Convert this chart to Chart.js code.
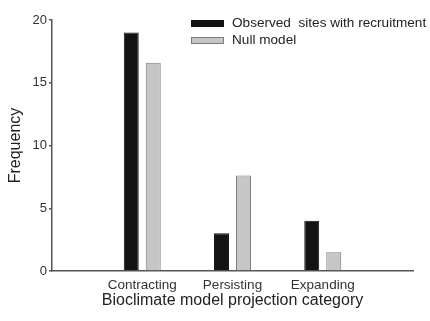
<!DOCTYPE html>
<html>
<head>
<meta charset="utf-8">
<script src="https://cdn.jsdelivr.net/npm/chart.js@4/dist/chart.umd.min.js"></script>
<style>
  body { margin: 0; background: #fff; }
  #wrap { width: 430px; height: 321px; }
</style>
</head>
<body>
<div id="wrap"><canvas id="chart" width="430" height="321"></canvas></div>
<script>
// blank slots at both ends so the 3 categories sit at 1..3 of a 0..4 axis
let categories = ['', 'Contracting', 'Persisting', 'Expanding', '']
let observed = [null, 19, 3, 4, null]
let nullModel = [null, 16.6, 7.6, 1.5, null]
let yTicks = [0, 5, 10, 15, 20]

const fontFam = '"Liberation Sans", Arial, sans-serif'
const axisColor = '#555'

// legend drawn inside the plot, top right
const insideLegend = {
    id: 'insideLegend',
    afterDraw(chart) {
        const ctx = chart.ctx
        const x0 = 191
        let y0 = 20
        ctx.save()
        ctx.font = '13.6px ' + fontFam
        ctx.textBaseline = 'middle'
        chart.data.datasets.forEach(ds => {
            ctx.fillStyle = ds.backgroundColor
            ctx.strokeStyle = ds.borderColor
            ctx.lineWidth = 1
            ctx.fillRect(x0, y0, 33, 7)
            ctx.strokeRect(x0 + 0.5, y0 + 0.5, 32, 6)
            ctx.fillStyle = '#222'
            ctx.fillText(ds.label, x0 + 41, y0 + 3.5)
            y0 += 17
        })
        ctx.restore()
    }
}

function initChart() {
    const ctx = document.getElementById('chart').getContext('2d');
    new Chart(ctx, {
        type: 'bar',
        data: {
            labels: categories,
            datasets: [{
                label: 'Observed  sites with recruitment',
                data: observed,
                backgroundColor: '#131313',
                borderColor: '#131313',
                borderWidth: 1
            }, {
                label: 'Null model',
                data: nullModel,
                backgroundColor: '#c6c6c6',
                borderColor: '#7c7c7c',
                borderWidth: 1
            }]
        },
        options: {
            responsive: false,
            animation: false,
            categoryPercentage: 0.4875,
            barPercentage: 0.68,
            layout: { padding: { top: 20, right: 17, left: 0, bottom: 0 } },
            plugins: {
                legend: { display: false },
                tooltip: { enabled: false }
            },
            scales: {
                x: {
                    offset: false,
                    grid: { display: false, drawTicks: false },
                    border: { display: true, color: axisColor, width: 1.5 },
                    ticks: { color: '#333', padding: 6, font: { family: fontFam, size: 13.5 }, maxRotation: 0, autoSkip: false },
                    title: {
                        display: true,
                        text: 'Bioclimate model projection category',
                        color: '#222',
                        font: { family: fontFam, size: 16 },
                        padding: { top: 0, bottom: 11 }
                    },
                    afterFit(scale) { scale.height = 50 }
                },
                y: {
                    min: 0,
                    max: 20,
                    afterBuildTicks(scale) { scale.ticks = yTicks.map(v => ({ value: v })) },
                    grid: { drawOnChartArea: false, drawTicks: true, tickLength: 3, color: axisColor, lineWidth: 1.5 },
                    border: { display: true, color: axisColor, width: 1.5 },
                    ticks: { color: '#333', padding: 2, font: { family: fontFam, size: 13 } },
                    title: {
                        display: true,
                        text: 'Frequency',
                        color: '#222',
                        font: { family: fontFam, size: 16 },
                        padding: { top: 6, bottom: 0 }
                    },
                    afterFit(scale) { scale.width = 52 }
                }
            }
        },
        plugins: [insideLegend]
    });
}

initChart()
</script>
</body>
</html>
